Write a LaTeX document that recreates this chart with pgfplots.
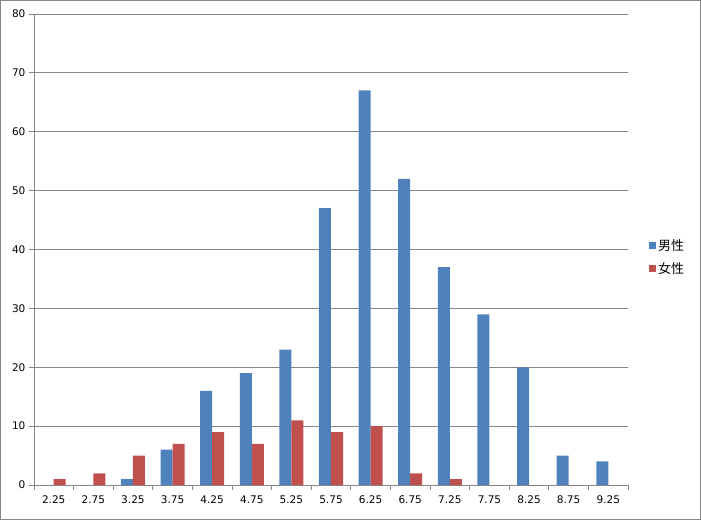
\documentclass[border=0pt]{standalone}
\usepackage{pgfplots}
\pgfplotsset{compat=1.18}
\usepackage{fontspec}
\setmainfont{DejaVu Sans}
\newfontfamily\cjk{Noto Sans CJK JP}
\definecolor{male}{HTML}{4F81BD}
\definecolor{female}{HTML}{C0504D}
\definecolor{gridg}{HTML}{868686}
\begin{document}
\begin{tikzpicture}[x=1pt,y=1pt]
\draw[gridg, line width=0.8pt] (0.5,0.5) rectangle (700.5,519.5);
\begin{axis}[
  at={(34pt,35pt)}, anchor=south west,
  scale only axis, width=594pt, height=471pt,
  ymin=0, ymax=80, ytick={0,10,...,80},
  xmin=-0.5, xmax=14.5,
  xtick={0,...,14},
  xticklabels={2.25,2.75,3.25,3.75,4.25,4.75,5.25,5.75,6.25,6.75,7.25,7.75,8.25,8.75,9.25},
  minor xtick={-0.5,0.5,...,14.5},
  major x tick style={draw=none},
  minor x tick style={gridg, line width=0.8pt},
  minor tick length=5pt,
  y tick style={gridg, line width=0.8pt},
  major tick length=5pt,
  tick align=outside,
  axis x line*=bottom, axis y line*=left,
  axis line style={gridg, line width=0.8pt, -},
  ymajorgrids, grid style={gridg, line width=0.8pt},
  tick label style={font=\fontsize{10.5}{12}\selectfont, /pgf/number format/assume math mode=true},
  xticklabel style={yshift=-2pt},
  ybar=0pt, bar width=12pt,
  legend style={at={(1.03,0.484)}, anchor=west, draw=none, fill=none,
    font=\cjk\fontsize{13}{15}\selectfont, row sep=7pt,
    legend cell align=left},
  legend image code/.code={\fill[#1] (0pt,-3.5pt) rectangle (7pt,3.5pt);},
]
\addplot[fill=male, draw=none] coordinates {(0,0) (1,0) (2,1) (3,6) (4,16) (5,19) (6,23) (7,47) (8,67) (9,52) (10,37) (11,29) (12,20) (13,5) (14,4)};
\addplot[fill=female, draw=none] coordinates {(0,1) (1,2) (2,5) (3,7) (4,9) (5,7) (6,11) (7,9) (8,10) (9,2) (10,1) (11,0) (12,0) (13,0) (14,0)};
\legend{男性,女性}
\end{axis}
\end{tikzpicture}
\end{document}
